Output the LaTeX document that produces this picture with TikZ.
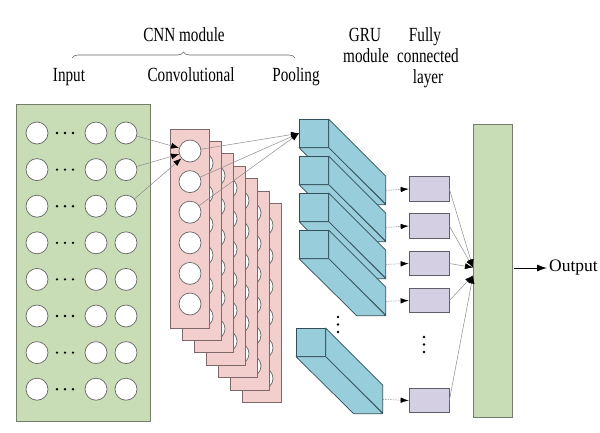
\documentclass[tikz,border=0pt]{standalone}
\usepackage{fontspec}
\setmainfont{Liberation Serif}
\usetikzlibrary{arrows.meta,decorations.pathreplacing,calc}
\newcommand\tallt[1]{\scalebox{1}[1.32]{#1}}
\definecolor{ingreen}{RGB}{200,220,182}
\definecolor{inedge}{RGB}{115,125,105}
\definecolor{convpink}{RGB}{242,206,204}
\definecolor{convedge}{RGB}{125,105,105}
\definecolor{poolblue}{RGB}{152,206,219}
\definecolor{pooledge}{RGB}{50,78,88}
\definecolor{grupurple}{RGB}{213,207,227}
\definecolor{gruedge}{RGB}{95,95,105}
\definecolor{linegray}{RGB}{140,140,140}
\tikzset{
  neuron/.style={circle, draw=black!60, fill=white, minimum size=22pt, inner sep=0pt, line width=0.7pt},
  inbox/.style={draw=inedge, fill=ingreen, minimum width=134pt, minimum height=317pt, inner sep=0pt, line width=0.7pt},
  convbox/.style={draw=convedge, fill=convpink, minimum width=39pt, minimum height=199pt, inner sep=0pt, line width=0.7pt},
  poolface/.style={draw=pooledge, fill=poolblue, minimum width=29pt, minimum height=28pt, inner sep=0pt, line width=0.7pt},
  poolside/.style={draw=pooledge, fill=poolblue, line width=0.7pt, line join=round},
  grubox/.style={draw=gruedge, fill=grupurple, minimum width=40pt, minimum height=24.5pt, inner sep=0pt, line width=0.7pt},
  fcbox/.style={draw=inedge, fill=ingreen, minimum width=39pt, minimum height=293pt, inner sep=0pt, line width=0.7pt},
  conn/.style={draw=linegray, line width=0.5pt, -{Latex[length=8pt,width=6pt,color=black]}},
  dconn/.style={draw=linegray, line width=0.5pt, dash pattern=on 1.5pt off 1pt, -{Latex[length=8pt,width=5.5pt,color=black]}},
  outarrow/.style={draw=black, line width=1pt, -{Latex[length=10pt,width=7pt]}},
  lbl/.style={font=\fontsize{15.2}{16}\selectfont, inner sep=0pt, anchor=base},
  outlbl/.style={font=\fontsize{17.5}{20}\selectfont, inner sep=2pt, anchor=west},
  bracestyle/.style={draw=black!60, line width=0.6pt, decorate, decoration={brace, amplitude=6pt}},
  dotmark/.style={fill=black}
}
\begin{document}
\begin{tikzpicture}[x=1pt,y=-1pt]
\useasboundingbox (0,0) rectangle (600,432);
\fill[white] (0,0) rectangle (600,432);

% labels
\node[lbl] (lcnn) at (184,41) {\tallt{CNN module}};
\coordinate (bl) at (72,58);
\coordinate (br) at (295,58);
\draw[bracestyle] (bl) -- (br);
\node[lbl] (lin) at (69,81) {\tallt{Input}};
\node[lbl] (lconv) at (191,81) {\tallt{Convolutional}};
\node[lbl] (lpool) at (296,81) {\tallt{Pooling}};
\node[lbl] (lgru1) at (365,41) {\tallt{GRU}};
\node[lbl] (lgru2) at (366,62) {\tallt{module}};
\node[lbl] (lfc1) at (425,41) {\tallt{Fully}};
\node[lbl] (lfc2) at (428,62) {\tallt{connected}};
\node[lbl] (lfc3) at (428,83) {\tallt{layer}};

% input layer
\node[inbox] (inp) at (83,262.5) {};
\foreach \r in {0,...,7} {
  \pgfmathsetmacro\yy{133+36.6*\r}
  \node[neuron] (in-\r-a) at (37,\yy) {};
  \node[neuron] (in-\r-b) at (96,\yy) {};
  \node[neuron] (in-\r-c) at (126,\yy) {};
  \foreach \dx in {57,65,73} \fill[dotmark] (\dx,\yy) circle (1.3pt);
}

% convolutional layers
\foreach \k in {6,5,...,0} {
  \node[convbox] (conv-\k) at ({189.5+12*\k},{228.5+12.4*\k}) {};
  \foreach \j in {0,...,5}
    \node[neuron] (c-\k-\j) at ({190+12*\k},{151+12.4*\k+30.6*\j}) {};
}

% pooling blocks
\foreach \i/\x/\y in {1/299/119, 2/299/156, 3/299/193, 4/299/230, 5/296/328} {
  \node[poolface, anchor=north west] (pf\i) at (\x,\y) {};
  \filldraw[poolside] (pf\i.north east) -- ++(57,57) -- ++(0,28) -- (pf\i.south east) -- cycle;
  \filldraw[poolside] (pf\i.south west) -- (pf\i.south east) -- ++(57,57) -- ++(-29,0) -- cycle;
  \coordinate (pb\i) at ($(pf\i.east)+(57,57)$);
}
\foreach \yy in {317,324.5,332} \fill[dotmark] (338,\yy) circle (1.3pt);

% input -> conv
\foreach \r in {0,1,2} \draw[conn] (in-\r-c) -- (c-0-0);
% conv -> pool
\foreach \j in {0,1,2} \draw[conn] (c-0-\j) -- (pf1.west);

% GRU
\foreach \i/\y in {1/189,2/226,3/263.5,4/300.5,5/400.5} {
  \node[grubox] (gru\i) at (429,\y) {};
  \draw[dconn] (pb\i) -- (gru\i.west);
}
\foreach \yy in {337,344.5,352} \fill[dotmark] (424,\yy) circle (1.3pt);

% fully connected
\node[fcbox] (fc) at (492.5,270.5) {};
\coordinate (fa) at (473,267.5);
\coordinate (fb) at (473,275.5);
\foreach \i in {1,2,3} \draw[conn] (gru\i.east) -- (fa);
\foreach \i in {4,5} \draw[conn] (gru\i.east) -- (fb);

% output
\node[outlbl] (out) at (547,268) {Output};
\draw[outarrow, shorten <=2pt] (fc.east |- out.west) -- (out.west);
\end{tikzpicture}
\end{document}
